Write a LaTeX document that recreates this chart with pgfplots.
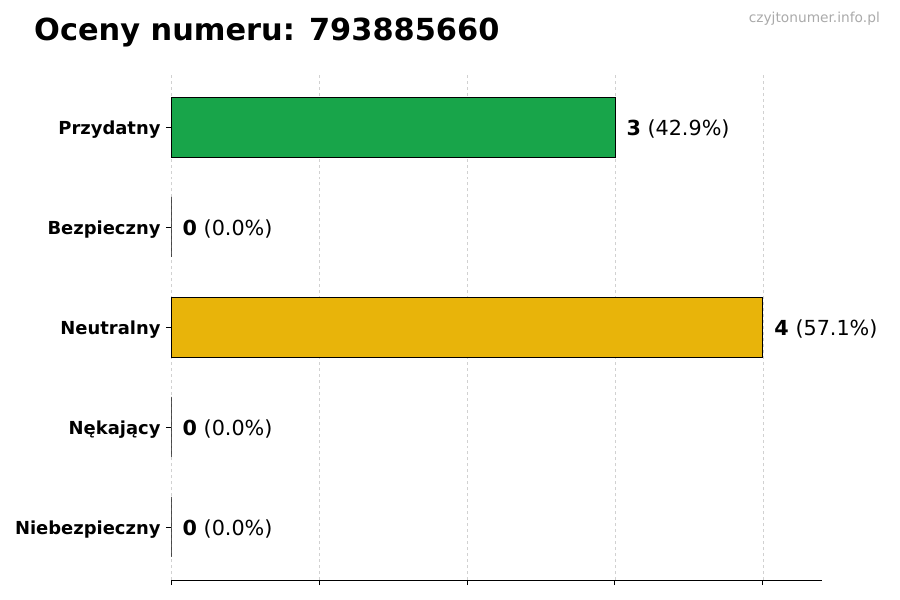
\documentclass[border=0pt]{standalone}
\usepackage{fontspec}
\setmainfont{DejaVu Sans}
\usepackage{pgfplots}
\pgfplotsset{compat=1.18}
\definecolor{barGreen}{RGB}{24,165,74}
\definecolor{barYellow}{RGB}{232,180,10}
\definecolor{markGray}{RGB}{170,170,170}

\begin{document}
\begin{tikzpicture}
\useasboundingbox (0,0) rectangle (900bp,600bp);
\node[anchor=base west, inner sep=0pt, font=\fontsize{30.5}{36}\selectfont\bfseries] at (34bp,559bp) {Oceny numeru: 793885660};
\node[anchor=base east, inner sep=0pt, text=markGray, font=\fontsize{13.8}{16}\selectfont] at (880bp,577bp) {czyjtonumer.info.pl};
\begin{axis}[
    at={(171bp,20bp)}, anchor=south west,
    scale only axis, width=651bp, height=505bp,
    xmin=0, xmax=4.4, ymin=-0.53, ymax=4.52,
    xbar, bar width=0.6, bar shift=0pt,
    axis x line*=bottom, axis y line*=left,
    x axis line style={-, line width=0.8bp},
    y axis line style={draw=none},
    xmajorgrids,
    major grid style={dashed, black!18, line width=0.6bp},
    xtick={0,1,2,3,4}, xticklabels={},
    ytick={0,1,2,3,4},
    yticklabels={Niebezpieczny,Nękający,Neutralny,Bezpieczny,Przydatny},
    yticklabel style={font=\fontsize{18}{21}\selectfont\bfseries, xshift=-2bp, yshift=-2.5bp},
    tick align=outside, major tick length=5bp,
    tick style={black, line width=0.8bp},
    point meta=explicit symbolic,
    nodes near coords,
    every node near coord/.append style={anchor=west, xshift=8bp, yshift=-2bp, font=\fontsize{20.8}{24}\selectfont, text=black},
  ]
\addplot[draw=black, line width=0.7bp, fill=barGreen] coordinates {(3,4) [\textbf{3} (42.9\%)]};
\addplot[draw=black, line width=0.7bp, fill=none] coordinates {(0,3) [\textbf{0} (0.0\%)]};
\addplot[draw=black, line width=0.7bp, fill=barYellow] coordinates {(4,2) [\textbf{4} (57.1\%)]};
\addplot[draw=black, line width=0.7bp, fill=none] coordinates {(0,1) [\textbf{0} (0.0\%)]};
\addplot[draw=black, line width=0.7bp, fill=none] coordinates {(0,0) [\textbf{0} (0.0\%)]};
\end{axis}
\end{tikzpicture}
\end{document}
